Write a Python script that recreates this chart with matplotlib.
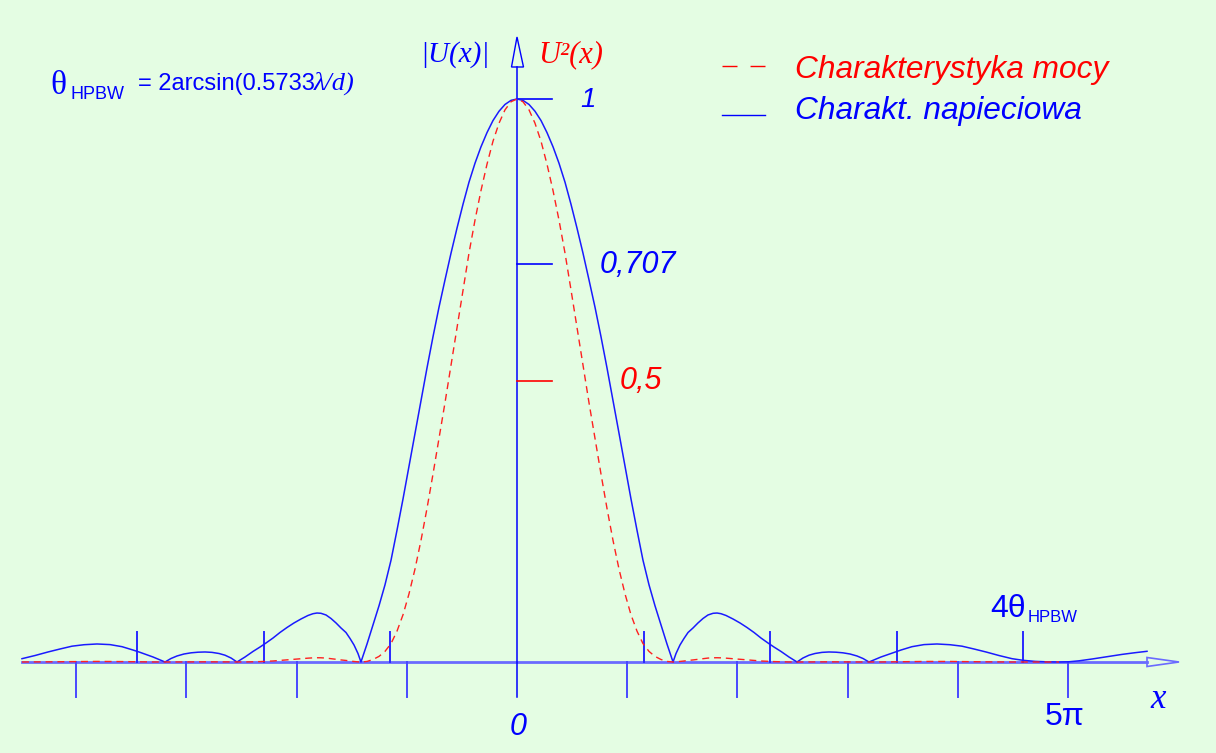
import matplotlib.pyplot as plt
from matplotlib.patches import Polygon

# x w jednostkach pi (x/pi), |U(x)|
x_pts = [-4.492, -4.374, -4.256, -4.147, -4.038, -3.929, -3.811, -3.693, -3.584, -3.485,
         -3.430, -3.367, -3.303, -3.249, -3.194,
         -3.140, -3.085, -3.022, -2.958, -2.895, -2.831, -2.768, -2.704, -2.650, -2.595, -2.541,
         -2.468, -2.396, -2.332, -2.278, -2.214, -2.151, -2.087, -2.024, -1.960, -1.897, -1.851,
         -1.815, -1.779, -1.733, -1.688, -1.642, -1.597, -1.552, -1.515, -1.479, -1.443, -1.416,
         -1.361, -1.307, -1.252, -1.198, -1.143, -1.089, -1.034, -0.980, -0.926, -0.871, -0.817,
         -0.762, -0.708, -0.653, -0.599, -0.544, -0.490, -0.436, -0.381, -0.327, -0.272, -0.218,
         -0.163, -0.109, -0.054, 0.000,
         0.054, 0.109, 0.163, 0.218, 0.272, 0.327, 0.381, 0.436, 0.490, 0.544, 0.599, 0.653,
         0.708, 0.762, 0.817, 0.871, 0.926, 0.980, 1.034, 1.089, 1.143, 1.198, 1.252, 1.307,
         1.361, 1.416,
         1.443, 1.479, 1.515, 1.552, 1.597, 1.642, 1.688, 1.733, 1.779, 1.815, 1.851, 1.897,
         1.960, 2.024, 2.087, 2.151, 2.214, 2.278, 2.332, 2.396, 2.468, 2.541,
         2.595, 2.650, 2.704, 2.768, 2.831, 2.895, 2.958, 3.022, 3.085, 3.140, 3.194,
         3.249, 3.303, 3.367, 3.430, 3.485, 3.584, 3.693, 3.811, 3.929, 4.038, 4.147, 4.256,
         4.374, 4.492, 4.592, 4.701, 4.809, 4.918,
         5.009, 5.100, 5.218, 5.354, 5.490, 5.608, 5.717]

u_abs = [0.0059, 0.0115, 0.0178, 0.0231, 0.0281, 0.0307, 0.0320, 0.0309, 0.0272, 0.0213,
         0.0178, 0.0133, 0.0089, 0.0044, 0.0,
         0.0062, 0.0107, 0.0142, 0.0163, 0.0174, 0.0178, 0.0171, 0.0151, 0.0121, 0.0071, 0.0,
         0.0089, 0.0187, 0.0266, 0.0337, 0.0426, 0.0524, 0.0613, 0.0693, 0.0764, 0.0826, 0.0858,
         0.0870, 0.0865, 0.0835, 0.0773, 0.0693, 0.0604, 0.0524, 0.0417, 0.0302, 0.0151, 0.0,
         0.032, 0.066, 0.100, 0.137, 0.181, 0.234, 0.290, 0.348, 0.406, 0.465, 0.522,
         0.578, 0.630, 0.679, 0.726, 0.771, 0.813, 0.852, 0.886, 0.915, 0.9404, 0.9617,
         0.9783, 0.9903, 0.9976, 1.000,
         0.9976, 0.9903, 0.9783, 0.9617, 0.9404, 0.915, 0.886, 0.852, 0.813, 0.771, 0.726, 0.679,
         0.630, 0.578, 0.522, 0.465, 0.406, 0.348, 0.290, 0.234, 0.181, 0.137, 0.100, 0.066,
         0.032, 0.0,
         0.0151, 0.0302, 0.0417, 0.0524, 0.0604, 0.0693, 0.0773, 0.0835, 0.0865, 0.0870, 0.0858, 0.0826,
         0.0764, 0.0693, 0.0613, 0.0524, 0.0426, 0.0337, 0.0266, 0.0187, 0.0089, 0.0,
         0.0071, 0.0121, 0.0151, 0.0171, 0.0178, 0.0174, 0.0163, 0.0142, 0.0107, 0.0062, 0.0,
         0.0044, 0.0089, 0.0133, 0.0178, 0.0213, 0.0272, 0.0309, 0.0320, 0.0307, 0.0281, 0.0231, 0.0178,
         0.0115, 0.0059, 0.0030, 0.0011, 0.0003, 0.0,
         0.0004, 0.0021, 0.0053, 0.0094, 0.0135, 0.0165, 0.0190]

# U^2(x), rysowana do x ~ 4.92
u_sq = [0.00003, 0.00013, 0.00032, 0.00053, 0.00079, 0.00094, 0.00102, 0.00095, 0.00074, 0.00045,
        0.00032, 0.00018, 0.00008, 0.00002, 0.0,
        0.00004, 0.00011, 0.0002, 0.00027, 0.0003, 0.00032, 0.00029, 0.00023, 0.00015, 0.00005, 0.0,
        0.00008, 0.00035, 0.00071, 0.00114, 0.00181, 0.00275, 0.00376, 0.0048, 0.00584, 0.00682, 0.00736,
        0.00757, 0.00748, 0.00697, 0.00598, 0.0048, 0.00365, 0.00275, 0.00174, 0.00091, 0.00023, 0.0,
        0.0010, 0.0044, 0.0100, 0.0188, 0.0328, 0.0548, 0.0841, 0.1211, 0.1648, 0.2162, 0.2725,
        0.3341, 0.3969, 0.4610, 0.5271, 0.5944, 0.6610, 0.7259, 0.7850, 0.8372, 0.8844, 0.9249,
        0.9571, 0.9807, 0.9952, 1.000,
        0.9952, 0.9807, 0.9571, 0.9249, 0.8844, 0.8372, 0.7850, 0.7259, 0.6610, 0.5944, 0.5271, 0.4610,
        0.3969, 0.3341, 0.2725, 0.2162, 0.1648, 0.1211, 0.0841, 0.0548, 0.0328, 0.0188, 0.0100, 0.0044,
        0.0010, 0.0,
        0.00023, 0.00091, 0.00174, 0.00275, 0.00365, 0.0048, 0.00598, 0.00697, 0.00748, 0.00757, 0.00736, 0.00682,
        0.00584, 0.0048, 0.00376, 0.00275, 0.00181, 0.00114, 0.00071, 0.00035, 0.00008, 0.0,
        0.00005, 0.00015, 0.00023, 0.00029, 0.00032, 0.0003, 0.00027, 0.0002, 0.00011, 0.00004, 0.0,
        0.00002, 0.00008, 0.00018, 0.00032, 0.00045, 0.00074, 0.00095, 0.00102, 0.00094, 0.00079, 0.00053, 0.00032,
        0.00013, 0.00003, 0.00001, 0.0, 0.0, 0.0]

pi_ticks = [-4, -3, -2, -1, 1, 2, 3, 4, 5]
hpbw = 1.149
hpbw_ticks = [-3, -2, -1, 1, 2, 3, 4]
y_marks = [1.0, 0.707, 0.5]
y_labels = ['1', '0,707', '0,5']

BG = '#e4fde3'
BLUE = '#0000ff'
RED = '#ff0000'
AXC = '#6a6aff'
SANS = 'Liberation Sans'
SERIF = 'Liberation Serif'


def px2x(px):
    return (px - 517) / 110.2


def py2y(py):
    return (662 - py) / 563


fig = plt.figure(figsize=(12.16, 7.53), dpi=100)
fig.patch.set_facecolor(BG)
ax = fig.add_axes([0, 0, 1, 1])
ax.set_facecolor(BG)
ax.set_xlim(px2x(0), px2x(1216))
ax.set_ylim(py2y(753), py2y(0))
ax.axis('off')

# os x ze strzalka
ax.plot([px2x(22), px2x(1147)], [0, 0], color=AXC, lw=2.0, zorder=1)
ax.add_patch(Polygon([[px2x(1147), py2y(657.5)], [px2x(1179), 0], [px2x(1147), py2y(666.5)]],
                     closed=True, fill=False, edgecolor=AXC, lw=1.2, zorder=1))
# os y ze strzalka
ax.plot([0, 0], [py2y(697), py2y(67)], color=BLUE, lw=1.1, zorder=2)
ax.add_patch(Polygon([[px2x(511.5), py2y(67)], [0, py2y(37)], [px2x(523.5), py2y(67)]],
                     closed=True, fill=False, edgecolor=BLUE, lw=1.0, zorder=2))

# podzialka co pi (pod osia) i co theta_HPBW (nad osia)
for k in pi_ticks:
    ax.plot([k, k], [0, py2y(697)], color='#4848ff', lw=1.4, zorder=1)
for k in hpbw_ticks:
    ax.plot([k * hpbw, k * hpbw], [0, py2y(632)], color='#2828ff', lw=1.4, zorder=1)

# znaczniki na osi y
for v, c in zip(y_marks, [BLUE, BLUE, RED]):
    ax.plot([0, px2x(552)], [v, v], color=c, lw=1.2, zorder=2)

# krzywe
ax.plot(x_pts, u_abs, color='#1a1aff', lw=1.1, zorder=3)
ax.plot(x_pts[:len(u_sq)], u_sq, color='#ff2020', lw=1.0, dashes=(5, 3.5), zorder=4)

# opisy osi y
ax.text(px2x(580), py2y(107), y_labels[0], family=SANS, style='italic', size=20, color=BLUE)
ax.text(px2x(600), py2y(273), y_labels[1], family=SANS, style='italic', size=22, color=BLUE)
ax.text(px2x(620), py2y(389), y_labels[2], family=SANS, style='italic', size=22, color=RED)
ax.text(px2x(420), py2y(62), '|U(x)|', family=SERIF, style='italic', size=21, color=BLUE)
ax.text(px2x(538), py2y(62), 'U²(x)', family=SERIF, style='italic', size=22, color=RED)

# opisy osi x
ax.text(px2x(510), py2y(735), '0', family=SANS, style='italic', size=22, color=BLUE)
ax.text(px2x(1045), py2y(725), '5π', family=SANS, size=23, color=BLUE)
ax.text(px2x(1150), py2y(708), 'x', family=SERIF, style='italic', size=25, color=BLUE)
ax.text(px2x(990), py2y(617), '4θ', family=SANS, size=23, color=BLUE)
ax.text(px2x(1028), py2y(622), 'HPBW', family=SANS, size=12, color=BLUE)

# wzor
ax.text(px2x(50), py2y(94), 'θ', family=SERIF, size=24, color=BLUE)
ax.text(px2x(70), py2y(99), 'HPBW', family=SANS, size=13, color=BLUE)
ax.text(px2x(138), py2y(90), '= 2arcsin(0.5733', family=SANS, size=17, color=BLUE)
ax.text(px2x(314), py2y(90), 'λ/d)', family=SERIF, style='italic', size=19, color=BLUE)

# legenda
ax.plot([px2x(722), px2x(765)], [py2y(66), py2y(66)], color=RED, lw=1.0, dashes=(10.8, 9.4))
ax.plot([px2x(722), px2x(765)], [py2y(115), py2y(115)], color=BLUE, lw=1.0)
ax.text(px2x(795), py2y(78), 'Charakterystyka mocy', family=SANS, style='italic', size=22.8, color=RED)
ax.text(px2x(795), py2y(119), 'Charakt. napieciowa', family=SANS, style='italic', size=22.8, color=BLUE)

fig.savefig('out.png', dpi=100, facecolor=BG)
